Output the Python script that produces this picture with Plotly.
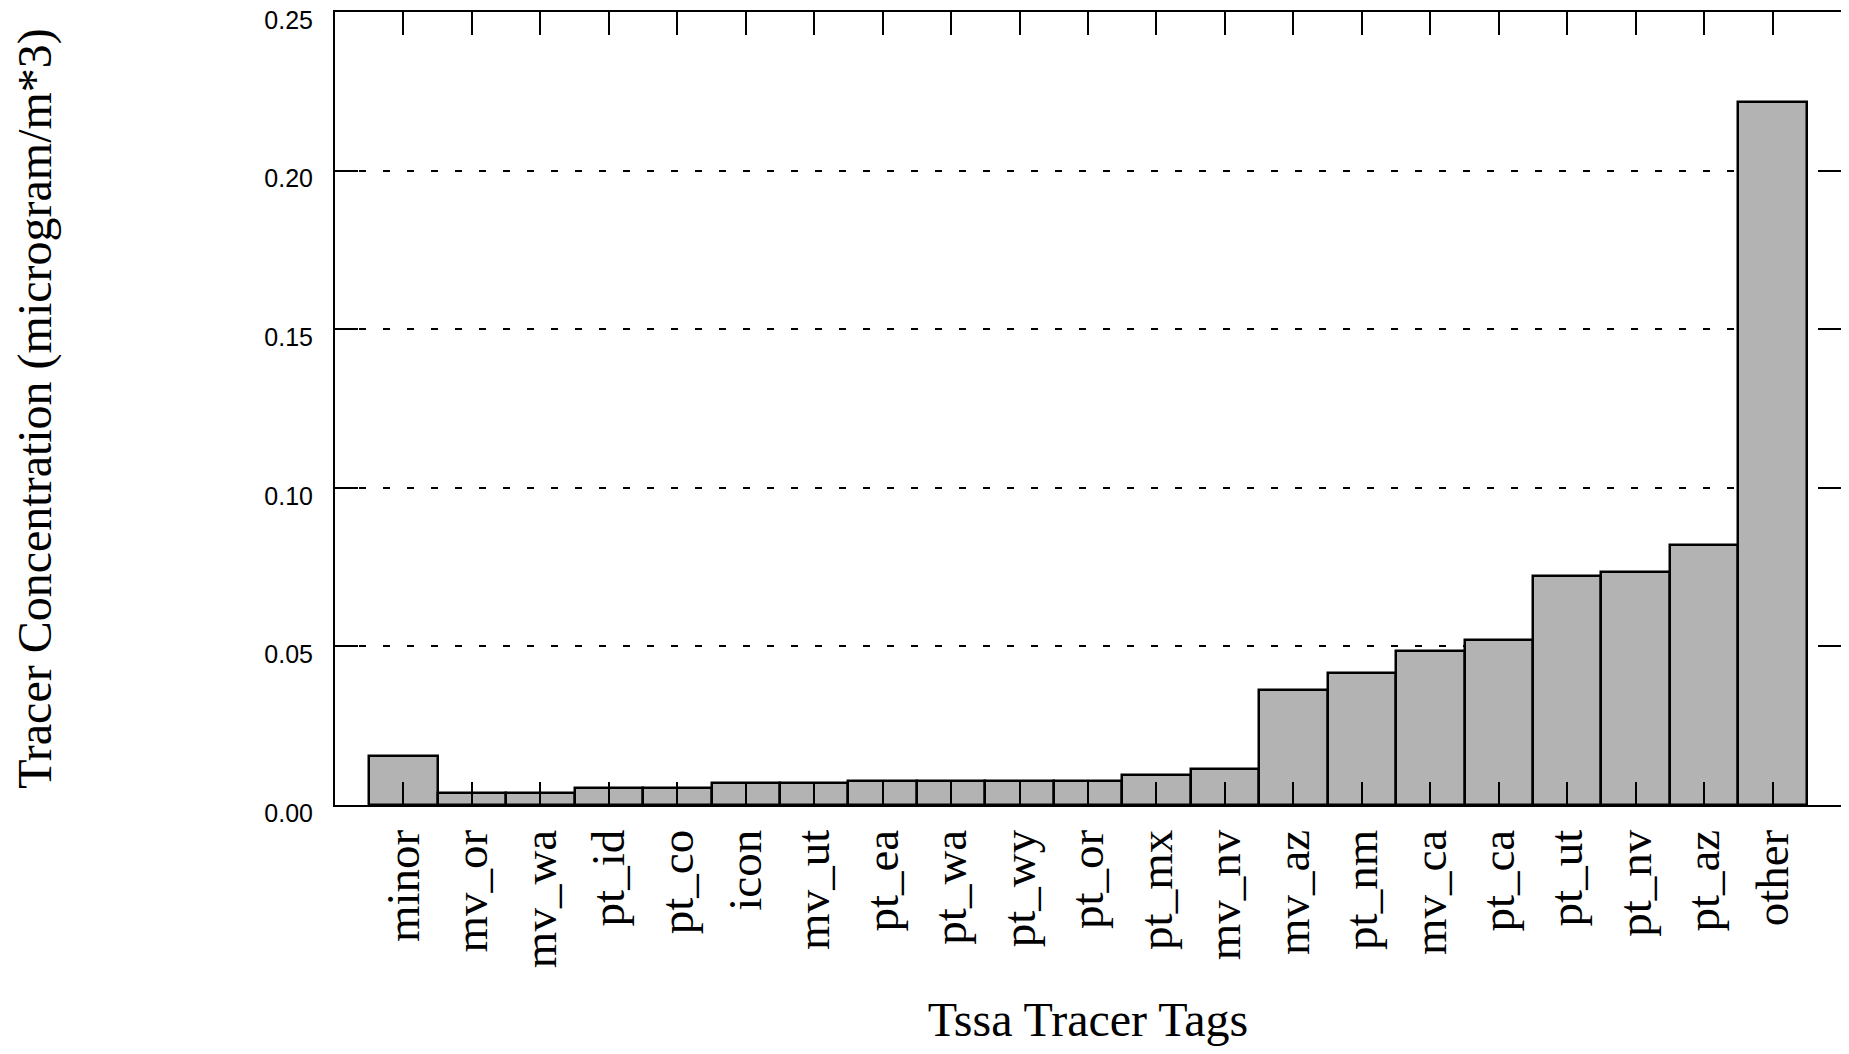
import plotly.graph_objects as go

categories = ["minor", "mv_or", "mv_wa", "pt_id", "pt_co", "icon", "mv_ut", "pt_ea",
              "pt_wa", "pt_wy", "pt_or", "pt_mx", "mv_nv", "mv_az", "pt_nm", "mv_ca",
              "pt_ca", "pt_ut", "pt_nv", "pt_az", "other"]
values = [0.0153, 0.0039, 0.0039, 0.0055, 0.0055, 0.0068, 0.0068, 0.0076,
          0.0076, 0.0076, 0.0076, 0.0094, 0.0113, 0.0363, 0.0417, 0.0484,
          0.0521, 0.0722, 0.0735, 0.0820, 0.2217]
y_ticks = [0.0, 0.05, 0.10, 0.15, 0.20, 0.25]
y_tick_labels = ["0.00", "0.05", "0.10", "0.15", "0.20", "0.25"]

fig = go.Figure()
fig.add_trace(go.Bar(
    x=categories, y=values,
    marker=dict(color="#b3b3b3", line=dict(color="black", width=2.5)),
    width=1.0,
))

fig.update_layout(
    width=1833, height=1038,
    margin=dict(l=327, r=0, t=4, b=241),
    paper_bgcolor="white", plot_bgcolor="white",
    bargap=0, showlegend=False,
)
fig.update_xaxes(
    type="category", range=[-1, len(categories)], automargin=False,
    showline=True, linecolor="black", linewidth=2, mirror="ticks",
    ticks="inside", ticklen=23, tickwidth=2, tickcolor="black",
    tickangle=-90, showgrid=False,
    tickfont=dict(family="Liberation Serif", size=47, color="black"),
    ticklabelstandoff=4,
    title=dict(text="Tssa Tracer Tags",
               font=dict(family="Liberation Serif", size=48, color="black"),
               standoff=55),
)
fig.update_yaxes(
    range=[0, 0.25], tickvals=y_ticks, ticktext=y_tick_labels, automargin=False,
    showline=True, linecolor="black", linewidth=2, mirror="ticks",
    ticks="inside", ticklen=23, tickwidth=2, tickcolor="black",
    showgrid=True, gridcolor="black", gridwidth=2, griddash="7px,17px",
    zeroline=False,
    ticklabelshift=8, ticklabeloverflow="allow",
    tickfont=dict(family="Liberation Sans", size=25, color="black"),
    ticklabelstandoff=15,
    title=dict(text="Tracer Concentration (microgram/m*3)",
               font=dict(family="Liberation Serif", size=48, color="black"),
               standoff=210),
)

fig.write_html("out.html")
